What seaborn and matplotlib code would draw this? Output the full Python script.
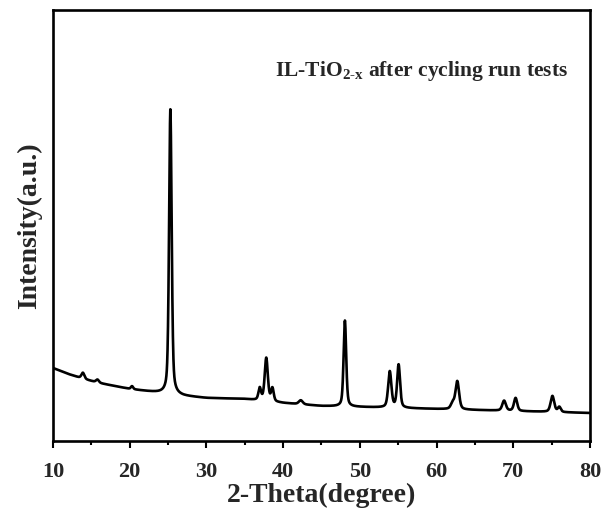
import numpy as np
import pandas as pd
import matplotlib
matplotlib.use("Agg")
import matplotlib.pyplot as plt
import seaborn as sns

# Background trend of the diffractogram (2-theta in degrees, intensity in a.u.)
baseline_theta = [10, 12, 14, 16, 18, 20, 22, 24, 27, 30, 35, 40, 45, 50, 55, 60, 65, 70, 75, 80]
baseline_level = [73, 67, 62, 58, 55, 52, 50, 48, 45, 43, 42, 38, 35, 34, 33, 32, 31, 30, 29, 28]

# Reflections: position (deg), height above background, FWHM (deg)
peak_theta = [13.9, 15.8, 20.3, 25.3, 36.95, 37.8, 38.6, 42.3, 48.05, 53.9, 55.05, 62.1, 62.7, 68.8, 70.3, 75.1, 76.0]
peak_height = [6, 3, 3, 285, 12, 43, 13, 4, 86, 36, 43, 6, 28, 10, 13, 16, 5]
peak_fwhm = [0.45, 0.45, 0.35, 0.4, 0.4, 0.48, 0.4, 0.6, 0.4, 0.5, 0.45, 0.55, 0.55, 0.55, 0.5, 0.55, 0.45]

x_ticks = [10, 20, 30, 40, 50, 60, 70, 80]
x_label = "2-Theta(degree)"
y_label = "Intensity(a.u.)"
annotation = r"IL-TiO$_{2\text{-}x}$ after cycling run tests"

theta = np.linspace(10, 80, 7001)
intensity = np.interp(theta, baseline_theta, baseline_level)
eta = 0.45
for pos, h, w in zip(peak_theta, peak_height, peak_fwhm):
    gauss = np.exp(-4 * np.log(2) * ((theta - pos) / w) ** 2)
    lor = 1.0 / (1.0 + 4 * ((theta - pos) / w) ** 2)
    intensity = intensity + h * (eta * lor + (1 - eta) * gauss)

df = pd.DataFrame({"theta": theta, "intensity": intensity})

sns.set_theme(style="white")
plt.rcParams["font.family"] = ["Liberation Serif", "DejaVu Serif"]
plt.rcParams["font.weight"] = "bold"
plt.rcParams["mathtext.fontset"] = "custom"
plt.rcParams["mathtext.rm"] = "Liberation Serif:bold"
plt.rcParams["mathtext.it"] = "Liberation Serif:bold"
plt.rcParams["mathtext.bf"] = "Liberation Serif:bold"

fig = plt.figure(figsize=(6.05, 5.14), dpi=100)
ax = fig.add_axes([53 / 605, 73 / 514, 537 / 605, 431 / 514])

sns.lineplot(data=df, x="theta", y="intensity", ax=ax, color="black", linewidth=1.9, estimator=None)

ax.set_xlim(10, 80)
ax.set_ylim(0, 431)
ax.set_xticks(x_ticks)
ax.set_xticks(np.arange(15, 80, 10), minor=True)
ax.set_yticks([])
ax.tick_params(axis="x", which="major", direction="out", length=5, width=1.5,
               bottom=True, labelsize=16, pad=10, color="black")
ax.tick_params(axis="x", which="minor", direction="out", length=3, width=1.5,
               bottom=True, color="black")
for lab in ax.get_xticklabels():
    lab.set_fontweight("bold")

for s in ax.spines.values():
    s.set_linewidth(1.9)
    s.set_color("black")

ax.set_xlabel(x_label, fontsize=20, fontweight="bold", labelpad=1)
ax.set_ylabel(y_label, fontsize=20, fontweight="bold", labelpad=8)

ax.text(38.9, 365, annotation, fontsize=15.5, fontweight="bold", ha="left", va="baseline")

fig.savefig("out.png", dpi=100, facecolor="white")
